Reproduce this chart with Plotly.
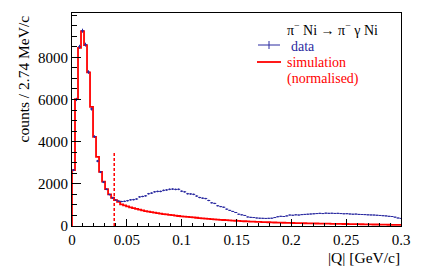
import numpy as np
import plotly.graph_objects as go

# ---- data ----
BIN_W = 0.00274  # GeV/c (2.74 MeV/c)

data_counts = [
    2650, 6000, 8500, 9260, 8600, 7300, 5550, 4240, 3080, 2560, 2080, 1740, 1490, 1330, 1230, 1180,
    1160, 1170, 1200, 1240, 1250, 1280, 1380, 1400, 1430, 1530, 1560, 1620, 1640, 1640,
    1690, 1710, 1740, 1750, 1735, 1740, 1650, 1620, 1530, 1520, 1500, 1420, 1350, 1320, 1300, 1210,
    1100, 1070, 960, 920, 890, 800, 740, 690, 640, 560, 530, 500, 430, 410, 400,
    380, 370, 365, 360, 365, 370, 400, 440, 460, 450, 480, 520, 510, 530, 520,
    540, 550, 560, 570, 580, 590, 600, 590, 610, 600, 605, 595, 600, 590, 580,
    585, 570, 560, 565, 550, 545, 540, 530, 525, 520, 510, 500, 490, 480, 460, 450, 420, 380, 360,
]

sim_counts = [
    2650, 6020, 8450, 9240, 8580, 7280, 5650, 4230, 3280, 2570, 2100, 1750, 1500, 1340, 1230, 1150,
    1030, 980, 930, 885, 845, 810, 775, 740, 710, 685, 660, 635, 612, 590,
    565, 548, 530, 512, 490, 474, 460, 446, 432, 418, 405, 392, 378, 365, 352, 338,
    326, 315, 304, 294, 284, 274, 265, 256, 248, 240, 232, 225, 218, 211, 205,
    199, 193, 187, 182, 177, 172, 167, 163, 159, 155, 151, 147, 143, 140, 136, 133, 130, 127, 124, 121,
    118, 115, 113, 110, 108, 105, 103, 100, 98, 96, 94, 91, 89, 87, 85, 83, 81, 79, 76,
    72, 70, 67, 65, 62, 60, 57, 55, 52, 50,
]

CUT_Q = 0.0385
CUT_TOP = 3500

x_ticks = [0, 0.05, 0.1, 0.15, 0.2, 0.25, 0.3]
x_ticktext = ["0", "0.05", "0.1", "0.15", "0.2", "0.25", "0.3"]
y_ticks = [0, 2000, 4000, 6000, 8000]
y_ticktext = ["0", "2000", "4000", "6000", "8000"]

BLUE = "#2a2aa0"
RED = "#ff0000"
FONT = "Liberation Serif, Times New Roman, serif"

n = len(data_counts)
edges = np.arange(n + 1) * BIN_W
centers = edges[:-1] + BIN_W / 2
data = np.array(data_counts, dtype=float)
sim = np.array(sim_counts, dtype=float)

fig = go.Figure()

# simulation step histogram
sx = np.concatenate([[0.0], edges[:-1], [edges[-1]]])
sy = np.concatenate([[0.0], sim, [sim[-1]]])
fig.add_trace(go.Scatter(x=sx, y=sy, mode="lines", line=dict(color=RED, width=1.8, shape="hv"),
                         hoverinfo="skip", showlegend=False))

# data with error bars
fig.add_trace(go.Scatter(
    x=centers, y=data, mode="markers",
    marker=dict(size=1, color=BLUE),
    error_x=dict(type="constant", value=BIN_W / 2, color=BLUE, thickness=1, width=0),
    error_y=dict(type="data", array=np.sqrt(data), color=BLUE, thickness=1, width=0),
    showlegend=False))

# cut line
fig.add_trace(go.Scatter(x=[CUT_Q, CUT_Q], y=[0, CUT_TOP], mode="lines",
                         line=dict(color=RED, width=1.5, dash="3px,2px"), showlegend=False))

W, H = 423, 273
L, R, T, B = 72, 22, 13, 47
pw, ph = W - L - R, H - T - B


def px(xp):
    return (xp - L) / pw


def py(yp):
    return (H - B - yp) / ph


annotations = [
    dict(text="π<sup>−</sup> Ni → π<sup>−</sup> γ Ni", x=px(285), y=py(29), xanchor="left", yanchor="middle",
         font=dict(family=FONT, size=14, color="black")),
    dict(text="data", x=px(289), y=py(46.5), xanchor="left", yanchor="middle",
         font=dict(family=FONT, size=14, color=BLUE)),
    dict(text="simulation", x=px(285), y=py(63), xanchor="left", yanchor="middle",
         font=dict(family=FONT, size=14, color=RED)),
    dict(text="(normalised)", x=px(285), y=py(79), xanchor="left", yanchor="middle",
         font=dict(family=FONT, size=14, color=RED)),
    dict(text="|Q| [GeV/c]", x=px(402), y=py(257), xanchor="right", yanchor="middle",
         font=dict(family=FONT, size=15.5, color="black")),
    dict(text="counts / 2.74 MeV/c", x=px(23), y=py(14), xanchor="center", yanchor="top", textangle=-90,
         font=dict(family=FONT, size=15.5, color="black")),
]
for a in annotations:
    a.update(xref="paper", yref="paper", showarrow=False)

shapes = [
    dict(type="line", xref="paper", yref="paper", x0=px(258), x1=px(280), y0=py(45), y1=py(45),
         line=dict(color=BLUE, width=1)),
    dict(type="line", xref="paper", yref="paper", x0=px(269), x1=px(269), y0=py(41), y1=py(49),
         line=dict(color=BLUE, width=1)),
    dict(type="line", xref="paper", yref="paper", x0=px(257), x1=px(281), y0=py(62), y1=py(62),
         line=dict(color=RED, width=1.8)),
]

fig.update_layout(
    width=W, height=H, margin=dict(l=L, r=R, t=T, b=B, pad=0),
    paper_bgcolor="white", plot_bgcolor="white",
    font=dict(family=FONT, size=14, color="black"),
    annotations=annotations, shapes=shapes,
    xaxis=dict(range=[0, 0.3], tickmode="array", tickvals=x_ticks, ticktext=x_ticktext, ticks="inside",
               ticklen=7, tickcolor="black", tickwidth=1, showline=True, linecolor="black", linewidth=1,
               mirror=True, showgrid=False, zeroline=False, tickfont=dict(family=FONT, size=15, color="black"),
               minor=dict(dtick=0.01, ticks="inside", ticklen=3.5, tickcolor="black", showgrid=False)),
    yaxis=dict(range=[0, 10100], tickmode="array", tickvals=y_ticks, ticktext=y_ticktext, ticks="inside",
               ticklen=9, tickcolor="black", tickwidth=1, showline=True, linecolor="black", linewidth=1,
               mirror=True, showgrid=False, zeroline=False, tickfont=dict(family=FONT, size=15, color="black"),
               minor=dict(dtick=500, ticks="inside", ticklen=4.5, tickcolor="black", showgrid=False)),
)

fig.write_html("out.html", config={"displayModeBar": False},
               post_script="document.body.style.margin='0';document.body.style.padding='0';")
